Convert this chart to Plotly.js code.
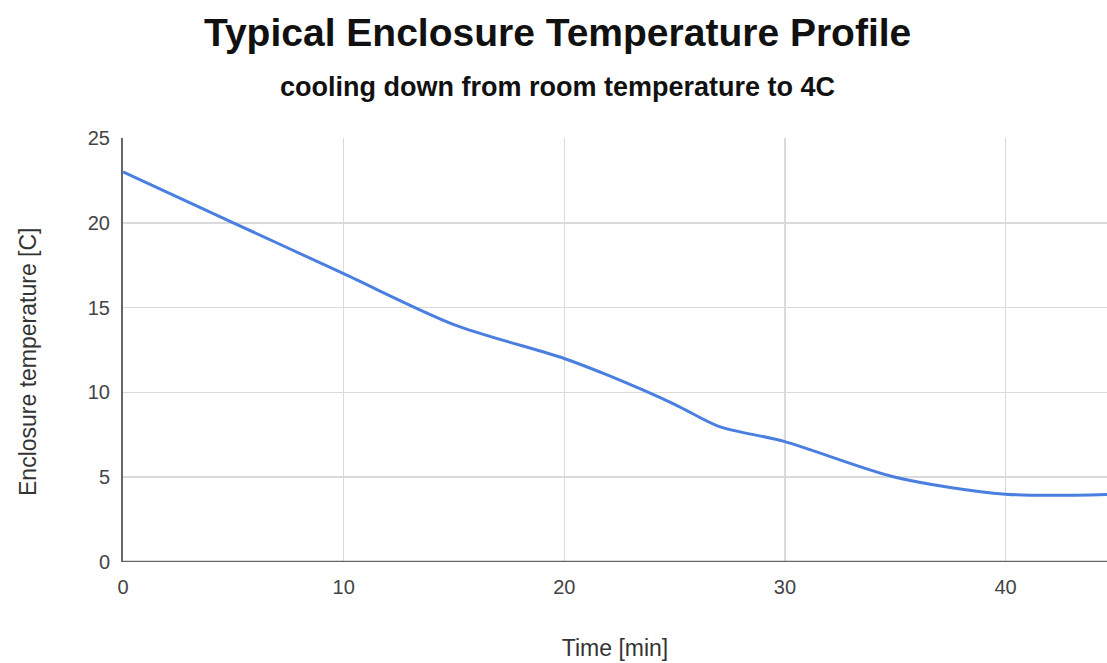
<!DOCTYPE html>
<html>
<head>
<meta charset="utf-8">
<script src="https://cdn.plot.ly/plotly-3.0.1.min.js"></script>
<style>html,body{margin:0;padding:0;background:#fff;}#chart{width:1107px;height:663px;}</style>
</head>
<body>
<div id="chart"></div>
<script>
const timeMin = [0, 5, 10, 15, 20, 22, 25, 27, 30, 35, 40, 45];
const enclosureTemp = [23, 20, 17, 14, 12, 11, 9.3, 8, 7.1, 5, 4, 4];
const xTicks = [0, 10, 20, 30, 40];
const yTicks = [0, 5, 10, 15, 20, 25];

const font = "Liberation Sans, Arial, sans-serif";
const trace = {
  x: timeMin, y: enclosureTemp, type: 'scatter', mode: 'lines',
  line: {color: '#4a7fe0', width: 3, shape: 'spline', smoothing: 0.8},
  hoverinfo: 'x+y'
};
const layout = {
  width: 1107, height: 663,
  margin: {l: 123, r: 0, t: 138, b: 101},
  paper_bgcolor: '#fff', plot_bgcolor: '#fff',
  showlegend: false,
  font: {family: font, color: '#444', size: 20},
  xaxis: {
    range: [0, 44.6], tickvals: xTicks, ticktext: xTicks.map(String),
    showgrid: true, gridcolor: '#dadada', gridwidth: 1.5,
    zeroline: false, showline: false, ticks: '',
    ticklabelstandoff: 11,
    tickfont: {size: 20, color: '#444'},
    title: {text: 'Time [min]', font: {size: 23, color: '#333'}, standoff: 42}
  },
  yaxis: {
    range: [0, 25], tickvals: yTicks, ticktext: yTicks.map(String),
    showgrid: true, gridcolor: '#dadada', gridwidth: 1.5,
    zeroline: false, showline: true, linecolor: '#666', linewidth: 2, ticks: '',
    ticklabelstandoff: 7,
    tickfont: {size: 20, color: '#444'}
  },
  shapes: [
    {type: 'line', xref: 'paper', yref: 'y', x0: 0, x1: 1, y0: 0, y1: 0, line: {color: '#666', width: 2.5}}
  ],
  annotations: [
    {text: '<b>Typical Enclosure Temperature Profile</b>', xref: 'paper', yref: 'paper',
     x: 0.4416, y: 1, yshift: 106, xanchor: 'center', yanchor: 'middle', showarrow: false,
     font: {size: 39, color: '#111', family: font}},
    {text: '<b>cooling down from room temperature to 4C</b>', xref: 'paper', yref: 'paper',
     x: 0.4416, y: 1, yshift: 51, xanchor: 'center', yanchor: 'middle', showarrow: false,
     font: {size: 27, color: '#111', family: font}},
    {text: 'Enclosure temperature [C]', xref: 'paper', yref: 'paper', textangle: -90,
     x: 0, xshift: -95, y: 0.5, yshift: -12, xanchor: 'center', yanchor: 'middle', showarrow: false,
     font: {size: 23, color: '#333', family: font}}
  ]
};
Plotly.newPlot('chart', [trace], layout, {displayModeBar: false, staticPlot: true});
</script>
</body>
</html>
